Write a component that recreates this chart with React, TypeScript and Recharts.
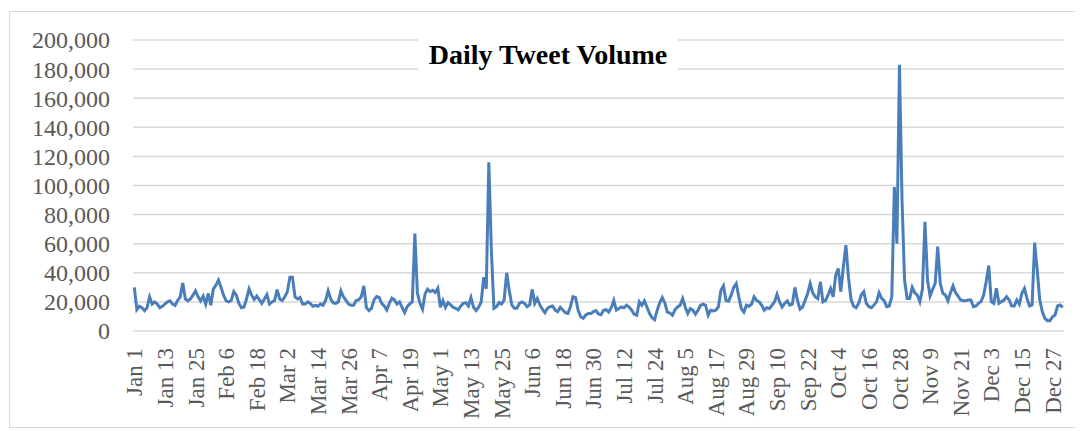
import { LineChart, Line, CartesianGrid, XAxis, YAxis } from "recharts";

// Calendar used for the category labels (non-leap year)
const MONTHS = ["Jan", "Feb", "Mar", "Apr", "May", "Jun", "Jul", "Aug", "Sep", "Oct", "Nov", "Dec"];
const MONTH_DAYS = [31, 28, 31, 30, 31, 30, 31, 31, 30, 31, 30, 31];

const Y_TICKS = [0, 20000, 40000, 60000, 80000, 100000, 120000, 140000, 160000, 180000, 200000];

// Daily tweet counts, Jan 1 .. Dec 31
const TWEETS = [
  30000, 14700, 17000, 16000, 14000, 16000, 23500, 18500, 20000, 18500,
  16000, 17000, 18500, 20000, 20700, 18500, 17500, 21000, 23500, 33000,
  22000, 20700, 22000, 24600, 27600, 23500, 20700, 24000, 18500, 25800,
  17700, 29000, 31500, 35000, 30000, 24600, 20700, 20000, 21000, 27000,
  24600, 19000, 16000, 16500, 22000, 29000, 24600, 21600, 24000, 21600,
  19000, 22000, 25000, 18500, 20000, 21000, 28500, 22000, 21000, 23500,
  27000, 37000, 37000, 23500, 22000, 23000, 18500, 18500, 20000, 19000,
  17000, 17700, 17000, 18500, 17700, 21000, 27600, 22000, 19300, 19000,
  20000, 27600, 23500, 21000, 18500, 17700, 17700, 21000, 21500, 23500,
  31000, 16000, 14000, 15600, 21400, 23700, 23000, 19000, 17200, 14500,
  19000, 22500, 21400, 18600, 20000, 16300, 12600, 16800, 18600, 20000,
  67000, 26000, 19000, 15000, 25500, 28700, 27000, 28000, 26500, 29400,
  16300, 21000, 16300, 19500, 18000, 16300, 15600, 14500, 17200, 19000,
  19500, 17200, 23000, 16300, 14000, 16300, 20000, 37000, 29000, 116000,
  55000, 15600, 16700, 19500, 18500, 21300, 40000, 28000, 17900, 15600,
  15600, 19000, 20000, 19000, 16700, 17900, 28600, 19000, 22400, 17900,
  15000, 12600, 15600, 16700, 17200, 14400, 13300, 16300, 14400, 12600,
  12100, 16700, 23600, 23000, 14400, 9800, 8700, 11000, 12100, 12100,
  13300, 14000, 11700, 11200, 14200, 14700, 13000, 16000, 21000, 14300,
  15400, 16500, 16000, 17700, 16500, 14300, 11500, 10800, 20000, 17700,
  20700, 16500, 12000, 9200, 7800, 14300, 19300, 23000, 19300, 13000,
  12400, 10800, 14700, 16500, 17700, 22300, 16500, 12000, 15400, 14300,
  11500, 14300, 17700, 18400, 17700, 10800, 14300, 13800, 14300, 16500,
  28000, 31000, 21000, 20500, 24600, 30000, 32600, 23500, 15400, 13000,
  17700, 17000, 18400, 23500, 21000, 20000, 17700, 14300, 16000, 15400,
  17700, 20000, 25300, 20000, 16500, 19000, 20700, 17700, 18400, 30000,
  21000, 15000, 16500, 21000, 25800, 32600, 26200, 23500, 22300, 33800,
  20000, 21000, 24600, 29200, 23500, 38400, 43000, 27000, 44000, 59000,
  37000, 21800, 17000, 16000, 19000, 24700, 27000, 19000, 16700, 16000,
  17900, 20000, 26300, 22400, 20800, 16700, 17200, 23600, 99000, 60000,
  183000, 90000, 35000, 22400, 22400, 30000, 26300, 24700, 20000, 28600,
  75000, 35000, 24000, 28600, 32700, 58000, 32700, 25900, 24700, 20800,
  26300, 31000, 26300, 24000, 21300, 20800, 20800, 21300, 21300, 16700,
  17200, 19000, 20200, 24700, 33900, 45000, 20200, 19000, 29300, 19000,
  20200, 21300, 23600, 21300, 17200, 17200, 21300, 18500, 25900, 29300,
  22400, 17200, 17900, 60700, 42000, 21300, 13300, 8700, 7100, 7100,
  9800, 11000, 17200, 17900, 16300,
];

const DATES: string[] = [];
MONTHS.forEach((m, i) => {
  for (let d = 1; d <= MONTH_DAYS[i]; d++) DATES.push(`${m} ${d}`);
});

const data = TWEETS.map((v, i) => ({ date: DATES[i], tweets: v }));

const LABEL_FONT = "'Liberation Serif', 'Times New Roman', serif";

function XTick(props: any) {
  const { x, y, payload } = props;
  const ty = y + 17;
  return (
    <text
      x={x}
      y={ty}
      dy="0.35em"
      textAnchor="end"
      transform={`rotate(-90, ${x}, ${ty})`}
      fill="#595959"
      fontSize={23}
      fontFamily={LABEL_FONT}
    >
      {payload.value}
    </text>
  );
}

function YTick(props: any) {
  const { x, y, payload } = props;
  return (
    <text x={x} y={y} dy="0.35em" textAnchor="end" fill="#595959" fontSize={24} fontFamily={LABEL_FONT}>
      {Number(payload.value).toLocaleString("en-US")}
    </text>
  );
}

export default function App() {
  return (
    <div style={{ position: "relative", width: 1083, height: 431, marginLeft: -8, marginTop: -8, background: "#fff", overflow: "hidden" }}>
      <div
        style={{
          position: "absolute",
          left: 9,
          top: 11,
          width: 1068,
          height: 415,
          border: "1.5px solid #d9d9d9",
        }}
      />
      <div style={{ position: "absolute", left: 0, top: 0 }}>
        <LineChart width={1083} height={431} data={data} margin={{ top: 40, right: 19, bottom: 0, left: 0 }}>
          <CartesianGrid vertical={false} stroke="#d9d9d9" strokeWidth={1.5} />
          <XAxis
            dataKey="date"
            interval={11}
            height={100}
            axisLine={false}
            tickLine={false}
            tickSize={0}
            tickMargin={0}
            padding={{ left: 1.3, right: 1.3 }}
            tick={<XTick />}
          />
          <YAxis
            domain={[0, 200000]}
            ticks={Y_TICKS}
            width={133}
            axisLine={false}
            tickLine={false}
            tickSize={0}
            tickMargin={23}
            tick={<YTick />}
          />
          <Line
            type="linear"
            dataKey="tweets"
            stroke="#4a7ebb"
            strokeWidth={3}
            dot={false}
            isAnimationActive={false}
          />
        </LineChart>
      </div>
      <div
        style={{
          position: "absolute",
          left: 418,
          top: 38,
          width: 260,
          height: 33,
          background: "#fff",
          textAlign: "center",
          fontFamily: LABEL_FONT,
          fontWeight: "bold",
          fontSize: 28,
          lineHeight: "34px",
          color: "#000",
        }}
      >
        Daily Tweet Volume
      </div>
    </div>
  );
}
